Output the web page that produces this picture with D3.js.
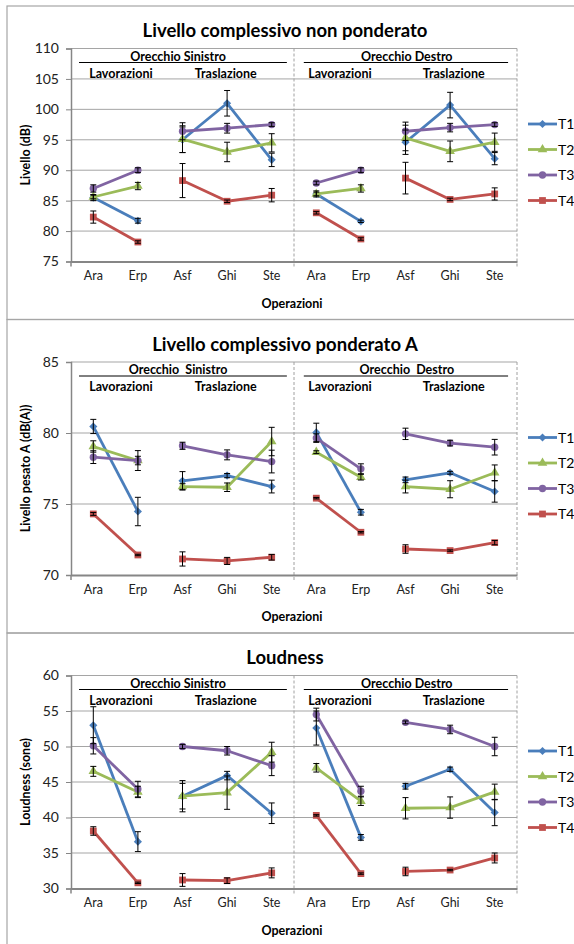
<!DOCTYPE html>
<html>
<head>
<meta charset="utf-8">
<script src="https://cdn.jsdelivr.net/npm/d3@7"></script>
<style>
  body { margin: 0; background: #fff; }
  svg { font-family: Lato, "Open Sans", sans-serif; }
</style>
</head>
<body>
<div id="chart"></div>
<script>
// categories (left ear then right ear)
let categories = ["Ara", "Erp", "Asf", "Ghi", "Ste", "Ara", "Erp", "Asf", "Ghi", "Ste"];
let seriesNames = ["T1", "T2", "T3", "T4"];
let seriesColors = ["#4a7ebb", "#9bbb59", "#8064a2", "#c0504d"];

// Livello complessivo non ponderato (dB)
let lin_T1 = [85.5, 81.7, 95.0, 101.0, 91.7, 86.1, 81.6, 94.6, 100.7, 91.9];
let lin_T2 = [85.6, 87.4, 95.1, 93.0, 94.5, 86.1, 87.0, 95.3, 93.1, 94.6];
let lin_T3 = [87.0, 90.0, 96.4, 96.9, 97.5, 87.9, 90.0, 96.4, 97.0, 97.5];
let lin_T4 = [82.3, 78.2, 88.3, 84.9, 85.9, 83.0, 78.7, 88.7, 85.2, 86.1];
let lin_T1e = [0.5, 0.4, 2.1, 2.1, 1.1, 0.5, 0.2, 2.0, 2.1, 1.0];
let lin_T2e = [0.3, 0.6, 2.2, 1.6, 1.5, 0.3, 0.6, 2.1, 1.7, 1.5];
let lin_T3e = [0.6, 0.4, 1.4, 0.8, 0.3, 0.3, 0.4, 1.5, 0.7, 0.3];
let lin_T4e = [1.0, 0.2, 2.8, 0.2, 1.1, 0.2, 0.2, 2.6, 0.2, 1.0];

// Livello complessivo ponderato A (dB(A))
let pes_T1 = [80.46, 74.47, 76.63, 77.0, 76.23, 80.04, 74.42, 76.7, 77.2, 75.88];
let pes_T2 = [79.05, 78.06, 76.23, 76.18, 79.4, 78.65, 76.89, 76.23, 76.04, 77.2];
let pes_T3 = [78.3, 78.06, 79.1, 78.46, 77.99, 79.64, 77.48, 79.94, 79.29, 79.0];
let pes_T4 = [74.3, 71.41, 71.13, 70.99, 71.25, 75.41, 73.01, 71.83, 71.72, 72.28];
let pes_T1e = [0.5, 1.0, 0.65, 0.15, 0.45, 0.65, 0.2, 0.2, 0.1, 0.75];
let pes_T2e = [0.4, 0.3, 0.2, 0.3, 1.0, 0.1, 0.2, 0.45, 0.6, 0.55];
let pes_T3e = [0.45, 0.7, 0.25, 0.35, 0.8, 0.3, 0.35, 0.4, 0.2, 0.55];
let pes_T4e = [0.1, 0.05, 0.5, 0.25, 0.2, 0.05, 0.05, 0.3, 0.05, 0.15];

// Loudness (sone)
let loud_T1 = [53.0, 36.6, 43.0, 45.9, 40.6, 52.6, 37.2, 44.4, 46.8, 40.7];
let loud_T2 = [46.5, 43.6, 43.0, 43.5, 49.2, 47.0, 42.3, 41.3, 41.4, 43.6];
let loud_T3 = [50.1, 44.0, 50.0, 49.4, 47.3, 54.5, 43.7, 53.4, 52.4, 50.0];
let loud_T4 = [38.1, 30.8, 31.2, 31.1, 32.2, 40.3, 32.1, 32.4, 32.6, 34.3];
let loud_T1e = [2.6, 1.4, 2.2, 0.6, 1.45, 2.4, 0.4, 0.4, 0.3, 1.85];
let loud_T2e = [0.7, 0.8, 1.8, 2.35, 1.4, 0.6, 0.6, 1.5, 1.5, 1.1];
let loud_T3e = [1.15, 1.1, 0.3, 0.6, 1.4, 0.9, 0.7, 0.2, 0.6, 1.3];
let loud_T4e = [0.6, 0.1, 0.9, 0.4, 0.7, 0.1, 0.1, 0.6, 0.1, 0.7];

// line segments (points joined by a line)
let segments = [[0, 1], [2, 3, 4], [5, 6], [7, 8, 9]];

let panels = [
  { title: "Livello complessivo non ponderato", ylabel: "Livello (dB)",
    domain: [75, 110], ticks: [75, 80, 85, 90, 95, 100, 105, 110],
    ear: ["Orecchio Sinistro", "Orecchio Destro"],
    values: [lin_T1, lin_T2, lin_T3, lin_T4], errors: [lin_T1e, lin_T2e, lin_T3e, lin_T4e] },
  { title: "Livello complessivo ponderato A", ylabel: "Livello pesato A (dB(A))",
    domain: [70, 85], ticks: [70, 75, 80, 85],
    ear: ["Orecchio\u00a0 Sinistro", "Orecchio\u00a0 Destro"],
    values: [pes_T1, pes_T2, pes_T3, pes_T4], errors: [pes_T1e, pes_T2e, pes_T3e, pes_T4e] },
  { title: "Loudness", ylabel: "Loudness (sone)",
    domain: [30, 60], ticks: [30, 35, 40, 45, 50, 55, 60],
    ear: ["Orecchio Sinistro", "Orecchio Destro"],
    values: [loud_T1, loud_T2, loud_T3, loud_T4], errors: [loud_T1e, loud_T2e, loud_T3e, loud_T4e] }
];

let svgWidth = 574, svgHeight = 944;
let panelTop = 6, panelH = 313.5, panelLeft = 7;
let plotLeft = 71, plotRight = 517;
let plotTopOff = 42.5, plotBottomOff = 255.5;
let gridColor = "#a5a5a5", axisColor = "#868686";

let svg = d3.select("#chart").append("svg")
  .attr("width", svgWidth).attr("height", svgHeight);

let x = d3.scaleBand().domain(d3.range(categories.length)).range([plotLeft, plotRight]);
let cx = i => x(i) + x.bandwidth() / 2;
// fractional category position for annotations
let fx = f => plotLeft + (f + 0.5) * x.bandwidth();

let symbols = [
  d3.symbol().type(d3.symbolDiamond2).size(42),
  d3.symbol().type(d3.symbolTriangle).size(40),
  d3.symbol().type(d3.symbolCircle).size(42),
  d3.symbol().type(d3.symbolSquare).size(46)
];

panels.forEach(function(p, pi) {
  let top = panelTop + pi * panelH;
  let g = svg.append("g");

  // panel border
  g.append("rect")
    .attr("x", panelLeft).attr("y", top)
    .attr("width", 620).attr("height", panelH)
    .attr("fill", "none").attr("stroke", "#a6a6a6").attr("stroke-width", 1.2);

  let yTop = top + plotTopOff, yBot = top + plotBottomOff;
  let y = d3.scaleLinear().domain(p.domain).range([yBot, yTop]);

  // title
  g.append("text")
    .attr("x", 285).attr("y", top + 31)
    .attr("text-anchor", "middle")
    .attr("font-size", "18.5px").attr("font-weight", "bold")
    .text(p.title);

  // gridlines
  g.selectAll(".grid").data(p.ticks.slice(1)).enter()
    .append("line")
    .attr("x1", plotLeft).attr("x2", plotRight)
    .attr("y1", d => y(d)).attr("y2", d => y(d))
    .attr("stroke", gridColor).attr("stroke-width", 1);

  // dashed separators
  [fx(4.5), plotRight].forEach(function(xx) {
    g.append("line")
      .attr("x1", xx).attr("x2", xx)
      .attr("y1", yTop).attr("y2", yBot + 5)
      .attr("stroke", "#a0a0a0").attr("stroke-width", 1)
      .attr("stroke-dasharray", "3,2");
  });

  // y axis
  let yAxis = d3.axisLeft(y).tickValues(p.ticks).tickSize(5).tickPadding(7);
  let ya = g.append("g").attr("transform", `translate(${plotLeft},0)`).call(yAxis);
  ya.select(".domain").attr("stroke", axisColor).attr("stroke-width", 1.5);
  ya.selectAll(".tick line").attr("stroke", axisColor);
  ya.selectAll(".tick text").attr("font-size", "14px").attr("fill", "#222")
    .attr("font-family", "Lato, sans-serif");

  // x axis
  let xAxis = d3.axisBottom(x).tickSize(0).tickPadding(10).tickFormat(i => categories[i]);
  let xa = g.append("g").attr("transform", `translate(0,${yBot})`).call(xAxis);
  xa.select(".domain").attr("stroke", axisColor).attr("stroke-width", 2);
  xa.selectAll(".tick text").attr("font-size", "12.5px").attr("fill", "#222")
    .attr("font-family", "Lato, sans-serif");
  g.append("line")
    .attr("x1", plotLeft).attr("x2", plotLeft)
    .attr("y1", yBot).attr("y2", yBot + 5)
    .attr("stroke", axisColor).attr("stroke-width", 1.5);

  // axis titles
  g.append("text")
    .attr("x", 292).attr("y", yBot + 46)
    .attr("text-anchor", "middle")
    .attr("font-size", "12.5px").attr("font-weight", "bold")
    .text("Operazioni");
  g.append("text")
    .attr("transform", `translate(30,${(yTop + yBot) / 2}) rotate(-90)`)
    .attr("text-anchor", "middle")
    .attr("font-size", "12.5px").attr("font-weight", "bold")
    .text(p.ylabel);

  // ear / group annotations
  let ann = g.append("g").attr("font-size", "12.5px").attr("font-weight", "bold")
    .attr("text-anchor", "middle");
  ann.append("text").attr("x", fx(1.9)).attr("y", yTop + 12).text(p.ear[0]);
  ann.append("text").attr("x", fx(7.03)).attr("y", yTop + 12).text(p.ear[1]);
  ann.append("line").attr("x1", fx(-0.32)).attr("x2", fx(4.34))
    .attr("y1", yTop + 14).attr("y2", yTop + 14).attr("stroke", "#000");
  ann.append("line").attr("x1", fx(4.72)).attr("x2", fx(9.3))
    .attr("y1", yTop + 14).attr("y2", yTop + 14).attr("stroke", "#000");
  ann.append("text").attr("x", fx(0.62)).attr("y", yTop + 29).text("Lavorazioni");
  ann.append("text").attr("x", fx(2.97)).attr("y", yTop + 29).text("Traslazione");
  ann.append("text").attr("x", fx(5.53)).attr("y", yTop + 29).text("Lavorazioni");
  ann.append("text").attr("x", fx(8.08)).attr("y", yTop + 29).text("Traslazione");

  // series
  let line = d3.line().x(i => cx(i));
  p.values.forEach(function(vals, si) {
    let sg = g.append("g");
    line.y(i => y(vals[i]));
    segments.forEach(function(seg) {
      sg.append("path")
        .attr("d", line(seg))
        .attr("fill", "none")
        .attr("stroke", seriesColors[si]).attr("stroke-width", 2.8)
        .attr("stroke-linejoin", "round");
    });
    sg.selectAll(".m").data(vals).enter()
      .append("path")
      .attr("transform", (d, i) => `translate(${cx(i)},${y(d)})`)
      .attr("d", symbols[si])
      .attr("fill", seriesColors[si]);
  });

  // error bars
  p.values.forEach(function(vals, si) {
    let errs = p.errors[si];
    let eg = g.append("g").attr("stroke", "#000").attr("stroke-width", 1);
    vals.forEach(function(v, i) {
      let xx = cx(i), y1 = y(v - errs[i]), y2 = y(v + errs[i]);
      eg.append("line").attr("x1", xx).attr("x2", xx).attr("y1", y1).attr("y2", y2);
      eg.append("line").attr("x1", xx - 3).attr("x2", xx + 3).attr("y1", y1).attr("y2", y1);
      eg.append("line").attr("x1", xx - 3).attr("x2", xx + 3).attr("y1", y2).attr("y2", y2);
    });
  });

  // legend
  let lg = g.append("g");
  seriesNames.forEach(function(name, si) {
    let ly = top + 118 + si * 25.5;
    lg.append("line")
      .attr("x1", 528).attr("x2", 557).attr("y1", ly).attr("y2", ly)
      .attr("stroke", seriesColors[si]).attr("stroke-width", 2.8);
    lg.append("path")
      .attr("transform", `translate(542.5,${ly})`)
      .attr("d", symbols[si]).attr("fill", seriesColors[si]);
    lg.append("text")
      .attr("x", 558).attr("y", ly + 5)
      .attr("font-size", "14px")
      .text(name);
  });
});
</script>
</body>
</html>
